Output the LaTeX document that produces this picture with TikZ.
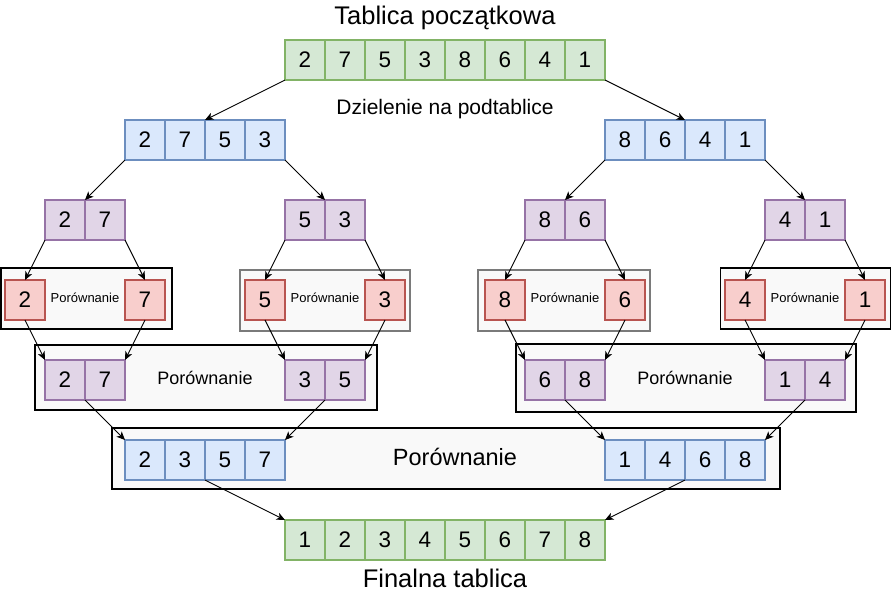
\documentclass[tikz,border=0pt]{standalone}
\usepackage{fontspec}
\setmainfont{Liberation Sans}
\usetikzlibrary{arrows.meta}
\definecolor{gfill}{HTML}{D5E8D4}\definecolor{gline}{HTML}{82B366}
\definecolor{bfill}{HTML}{DAE8FC}\definecolor{bline}{HTML}{6C8EBF}
\definecolor{pfill}{HTML}{E1D5E7}\definecolor{pline}{HTML}{9673A6}
\definecolor{rfill}{HTML}{F8CECC}\definecolor{rline}{HTML}{B85450}
\definecolor{boxfill}{HTML}{F9F9F9}\definecolor{boxgray}{HTML}{7A7A7A}
\begin{document}
\begin{tikzpicture}[x=1pt,y=-1pt,
  cell/.style={draw,line width=1.1pt,minimum width=40pt,minimum height=40pt,inner sep=0pt,outer sep=0pt,font=\fontsize{22.5}{24}\selectfont},
  gcell/.style={cell,fill=gfill,draw=gline},
  bcell/.style={cell,fill=bfill,draw=bline},
  pcell/.style={cell,fill=pfill,draw=pline},
  rcell/.style={cell,fill=rfill,draw=rline},
  cmpbox/.style={draw=black,line width=1.2pt,fill=boxfill,inner sep=0pt,outer sep=0pt},
  graybox/.style={cmpbox,draw=boxgray,line width=2.6pt},
  arr/.style={line width=0.9pt,-{Stealth[length=8.5pt,width=7.5pt,inset=2.5pt]}},
  smalltxt/.style={font=\fontsize{13}{15}\selectfont,inner sep=0pt},
  midtxt/.style={font=\fontsize{18}{20}\selectfont,inner sep=0pt},
  bigtxt/.style={font=\fontsize{23.5}{26}\selectfont,inner sep=0pt},
  titletxt/.style={font=\fontsize{25.5}{28}\selectfont,inner sep=0pt},
  subtxt/.style={font=\fontsize{21}{23}\selectfont,inner sep=0pt}]
\useasboundingbox (0,0) rectangle (892,598);
% comparison frames
\node[cmpbox,minimum width=171pt,minimum height=61pt] (box1) at (86.5,298.5) {};
\node[graybox,minimum width=170pt,minimum height=61pt] (box2) at (325,300.5) {};
\node[graybox,minimum width=172pt,minimum height=61pt] (box3) at (564,300.5) {};
\node[cmpbox,minimum width=170pt,minimum height=61pt] (box4) at (805.5,298.5) {};
\node[cmpbox,minimum width=342pt,minimum height=65pt] (box5) at (206,377.5) {};
\node[cmpbox,minimum width=340pt,minimum height=68pt] (box6) at (686,378) {};
\node[cmpbox,minimum width=668pt,minimum height=61pt] (box7) at (446,458.5) {};
% texts
\node[titletxt] (title) at (445,18) {Tablica początkowa};
\node[subtxt] (divide) at (445,109) {Dzielenie na podtablice};
\node[titletxt] (final) at (445,578) {Finalna tablica};
\node[smalltxt] (c1txt) at (85,298) {Porównanie};
\node[smalltxt] (c2txt) at (325,298) {Porównanie};
\node[smalltxt] (c3txt) at (565,298) {Porównanie};
\node[smalltxt] (c4txt) at (805,298) {Porównanie};
\node[midtxt] (c5txt) at (205,378) {Porównanie};
\node[midtxt] (c6txt) at (685,378) {Porównanie};
\node[bigtxt] (c7txt) at (455,457) {Porównanie};
% arrays
\foreach \v [count=\i] in {2,7,5,3,8,6,4,1} \node[gcell] (a\i) at ({305+40*(\i-1)},60) {\v};
\foreach \v [count=\i] in {2,7,5,3} \node[bcell] (b\i) at ({145+40*(\i-1)},140) {\v};
\foreach \v [count=\i] in {8,6,4,1} \node[bcell] (c\i) at ({625+40*(\i-1)},140) {\v};
\foreach \v [count=\i] in {2,7} \node[pcell] (d\i) at ({65+40*(\i-1)},220) {\v};
\foreach \v [count=\i] in {5,3} \node[pcell] (e\i) at ({305+40*(\i-1)},220) {\v};
\foreach \v [count=\i] in {8,6} \node[pcell] (f\i) at ({545+40*(\i-1)},220) {\v};
\foreach \v [count=\i] in {4,1} \node[pcell] (g\i) at ({785+40*(\i-1)},220) {\v};
\node[rcell] (r1) at (25,300) {2};
\node[rcell] (r2) at (145,300) {7};
\node[rcell] (r3) at (265,300) {5};
\node[rcell] (r4) at (385,300) {3};
\node[rcell] (r5) at (505,300) {8};
\node[rcell] (r6) at (625,300) {6};
\node[rcell] (r7) at (745,300) {4};
\node[rcell] (r8) at (865,300) {1};
\foreach \v [count=\i] in {2,7} \node[pcell] (h\i) at ({65+40*(\i-1)},380) {\v};
\foreach \v [count=\i] in {3,5} \node[pcell] (i\i) at ({305+40*(\i-1)},380) {\v};
\foreach \v [count=\i] in {6,8} \node[pcell] (j\i) at ({545+40*(\i-1)},380) {\v};
\foreach \v [count=\i] in {1,4} \node[pcell] (k\i) at ({785+40*(\i-1)},380) {\v};
\foreach \v [count=\i] in {2,3,5,7} \node[bcell] (l\i) at ({145+40*(\i-1)},460) {\v};
\foreach \v [count=\i] in {1,4,6,8} \node[bcell] (m\i) at ({625+40*(\i-1)},460) {\v};
\foreach \v [count=\i] in {1,2,3,4,5,6,7,8} \node[gcell] (n\i) at ({305+40*(\i-1)},540) {\v};
% connectors
\draw[arr] (a1.south west) -- (b3.north west);
\draw[arr] (a8.south east) -- (c3.north west);
\draw[arr] (b1.south west) -- (d2.north west);
\draw[arr] (b4.south east) -- (e2.north west);
\draw[arr] (c1.south west) -- (f2.north west);
\draw[arr] (c4.south east) -- (g2.north west);
\draw[arr] (d1.south west) -- (r1.north);
\draw[arr] (d2.south east) -- (r2.north);
\draw[arr] (e1.south west) -- (r3.north);
\draw[arr] (e2.south east) -- (r4.north);
\draw[arr] (f1.south west) -- (r5.north);
\draw[arr] (f2.south east) -- (r6.north);
\draw[arr] (g1.south west) -- (r7.north);
\draw[arr] (g2.south east) -- (r8.north);
\draw[arr] (r1.south) -- (h1.north west);
\draw[arr] (r2.south) -- (h2.north east);
\draw[arr] (r3.south) -- (i1.north west);
\draw[arr] (r4.south) -- (i2.north east);
\draw[arr] (r5.south) -- (j1.north west);
\draw[arr] (r6.south) -- (j2.north east);
\draw[arr] (r7.south) -- (k1.north west);
\draw[arr] (r8.south) -- (k2.north east);
\draw[arr] (h1.south east) -- (l1.north west);
\draw[arr] (i1.south east) -- (l4.north east);
\draw[arr] (j1.south east) -- (m1.north west);
\draw[arr] (k1.south east) -- (m4.north east);
\draw[arr] (l2.south east) -- (n1.north west);
\draw[arr] (m2.south east) -- (n8.north east);
\end{tikzpicture}
\end{document}
